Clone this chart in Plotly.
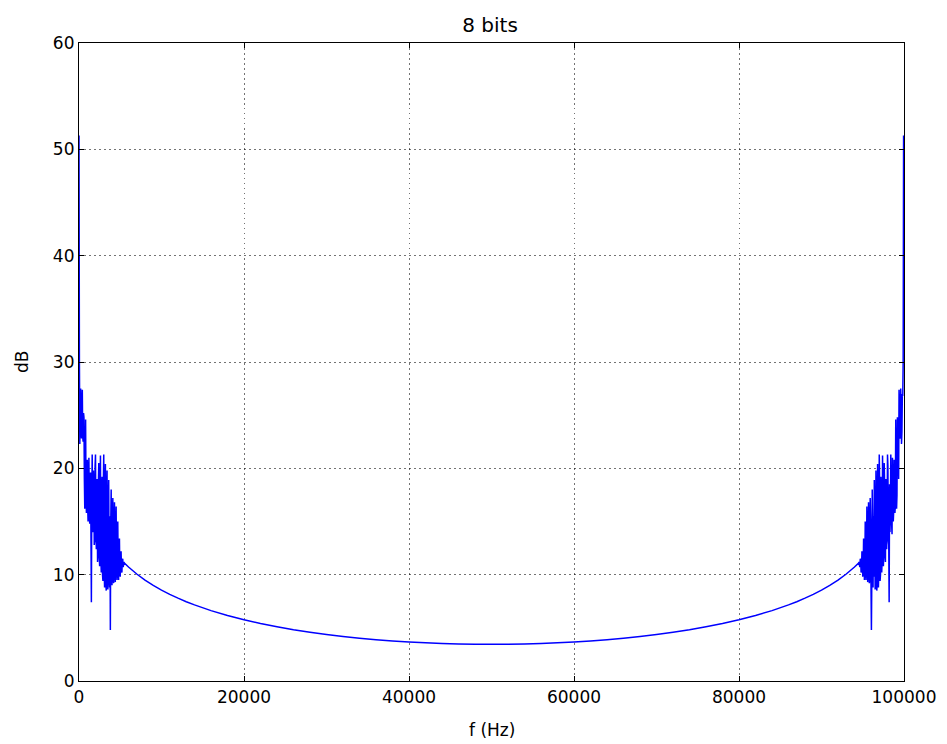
import numpy as np
import plotly.graph_objects as go

# Low-frequency noisy region, dB values every 50 Hz starting at 0 Hz
noise_lo_db = [51.3, 30.0, 22.3, 26.8, 27.5, 23.5, 22.8, 26.0, 27.4, 23.0,
               22.5, 25.2, 24.8, 19.0, 16.2, 21.0, 24.6, 17.5, 15.8, 19.8,
               20.8, 16.5, 15.0, 19.2, 21.0, 16.0, 14.8, 18.4, 19.6, 13.8,
               7.4, 17.0, 21.3, 15.5, 14.0, 19.8, 18.5, 12.8, 13.2, 20.2,
               21.3, 14.2, 12.4, 17.8, 19.0, 11.2, 11.8, 18.6, 20.5, 12.0,
               10.8, 17.2, 21.2, 11.5, 10.2, 16.8, 19.2, 10.0, 9.4, 18.5,
               21.3, 10.5, 8.8, 17.0, 20.4, 9.2, 8.5, 17.4, 19.8, 9.0,
               8.6, 16.2, 18.9, 9.8, 8.8, 15.5, 4.8, 14.8, 18.0, 10.0,
               9.0, 15.2, 17.2, 9.6, 9.2, 14.6, 16.8, 10.2, 9.3, 14.0,
               16.4, 10.5, 9.5, 13.2, 15.0, 10.4, 9.5, 12.5, 13.4, 10.2,
               9.8, 11.8, 12.2, 10.4, 10.2, 11.4, 11.5, 10.7, 10.9, 11.2]
noise_step_hz = 50

# Smooth middle region (Hz, dB)
smooth_f = [5500, 6000, 7000, 8000, 9000, 10000, 11000, 12000, 13000, 14000,
            16000, 18000, 20000, 22000, 24000, 26000, 28000, 30000, 32000, 34000,
            36000, 38000, 40000, 42000, 44000, 46000, 48000, 50000,
            52000, 54000, 56000, 58000, 60000, 62000, 64000, 66000, 68000, 70000,
            72000, 74000, 76000, 78000, 80000, 82000, 84000, 86000, 87000, 88000,
            89000, 90000, 91000, 92000, 93000, 94000, 94500]
smooth_db = [11.10, 10.72, 10.06, 9.49, 8.99, 8.55, 8.15, 7.79, 7.46, 7.16,
             6.62, 6.16, 5.76, 5.41, 5.10, 4.82, 4.58, 4.37, 4.19, 4.02,
             3.88, 3.77, 3.67, 3.59, 3.53, 3.48, 3.46, 3.45,
             3.46, 3.48, 3.53, 3.59, 3.67, 3.77, 3.88, 4.02, 4.19, 4.37,
             4.58, 4.82, 5.10, 5.41, 5.76, 6.16, 6.62, 7.16, 7.46, 7.79,
             8.15, 8.55, 8.99, 9.49, 10.06, 10.72, 11.10]

# High-frequency noisy region, dB values every 50 Hz ending at 99950 Hz
noise_hi_db = [11.2, 10.9, 10.7, 11.5, 11.4, 10.2, 10.4, 12.2, 11.8, 9.8,
               10.2, 13.4, 12.5, 9.5, 10.4, 15.0, 13.2, 9.5, 10.5, 16.4,
               14.0, 9.3, 10.2, 16.8, 14.6, 9.2, 9.6, 17.2, 15.2, 9.0,
               4.8, 10.0, 18.0, 14.8, 8.8, 15.5, 9.8, 18.9, 16.2, 8.6,
               9.0, 19.8, 17.4, 8.5, 9.2, 20.4, 17.0, 8.8, 10.5, 21.3,
               18.5, 9.4, 10.0, 19.2, 16.8, 10.2, 11.5, 21.2, 17.2, 10.8,
               12.0, 20.5, 18.6, 11.8, 11.2, 19.0, 17.8, 12.4, 14.2, 21.3,
               20.2, 13.2, 12.8, 7.4, 18.5, 14.0, 15.5, 21.3, 17.0, 14.8,
               13.8, 21.0, 18.4, 15.0, 16.0, 20.8, 19.2, 15.8, 16.5, 24.6,
               19.8, 16.2, 17.5, 24.8, 21.0, 22.5, 19.0, 27.4, 25.2, 22.8,
               23.0, 27.5, 26.0, 22.3, 23.5, 27.0, 26.8, 30.0, 51.3]

x_ticks = [0, 20000, 40000, 60000, 80000, 100000]
y_ticks = [0, 10, 20, 30, 40, 50, 60]

noise_lo_f = [i * noise_step_hz for i in range(len(noise_lo_db))]
hi_end = 99950
noise_hi_f = [hi_end - (len(noise_hi_db) - 1 - i) * noise_step_hz for i in range(len(noise_hi_db))]

freq = noise_lo_f + smooth_f + noise_hi_f
db = noise_lo_db + smooth_db + noise_hi_db

fig = go.Figure()
fig.add_trace(go.Scatter(x=freq, y=db, mode="lines",
                         line=dict(color="#0000ff", width=1.5, simplify=False), showlegend=False))

font = "DejaVu Sans, Arial, sans-serif"
axis_common = dict(showline=True, linecolor="black", linewidth=1.2, mirror="ticks",
                   ticks="inside", ticklen=5, tickcolor="black", automargin=False,
                   showgrid=True, gridcolor="rgba(0,0,0,0.55)", griddash="1.5px,3.5px", gridwidth=1,
                   zeroline=False, tickfont=dict(size=17, color="black", family=font))

fig.update_layout(
    width=947, height=744,
    margin=dict(l=79, r=43, t=43, b=63),
    paper_bgcolor="white", plot_bgcolor="white",
    title=dict(text="8 bits", x=0.5175, xanchor="center", y=1 - 25 / 744, yanchor="middle",
               yref="container", font=dict(size=20, color="black", family=font)),
    xaxis=dict(range=[0, 100000], tickvals=x_ticks, ticktext=[str(v) for v in x_ticks],
               **axis_common),
    yaxis=dict(range=[0, 60], tickvals=y_ticks, ticktext=[str(v) for v in y_ticks],
               **axis_common),
    annotations=[
        dict(text="f (Hz)", xref="paper", yref="paper", x=0.5, y=0, yshift=-49,
             xanchor="center", yanchor="middle", showarrow=False,
             font=dict(size=17, color="black", family=font)),
        dict(text="dB", xref="paper", yref="paper", x=0, y=0.5, xshift=-57,
             xanchor="center", yanchor="middle", showarrow=False, textangle=-90,
             font=dict(size=17, color="black", family=font)),
    ],
)

fig.write_html("out.html")
